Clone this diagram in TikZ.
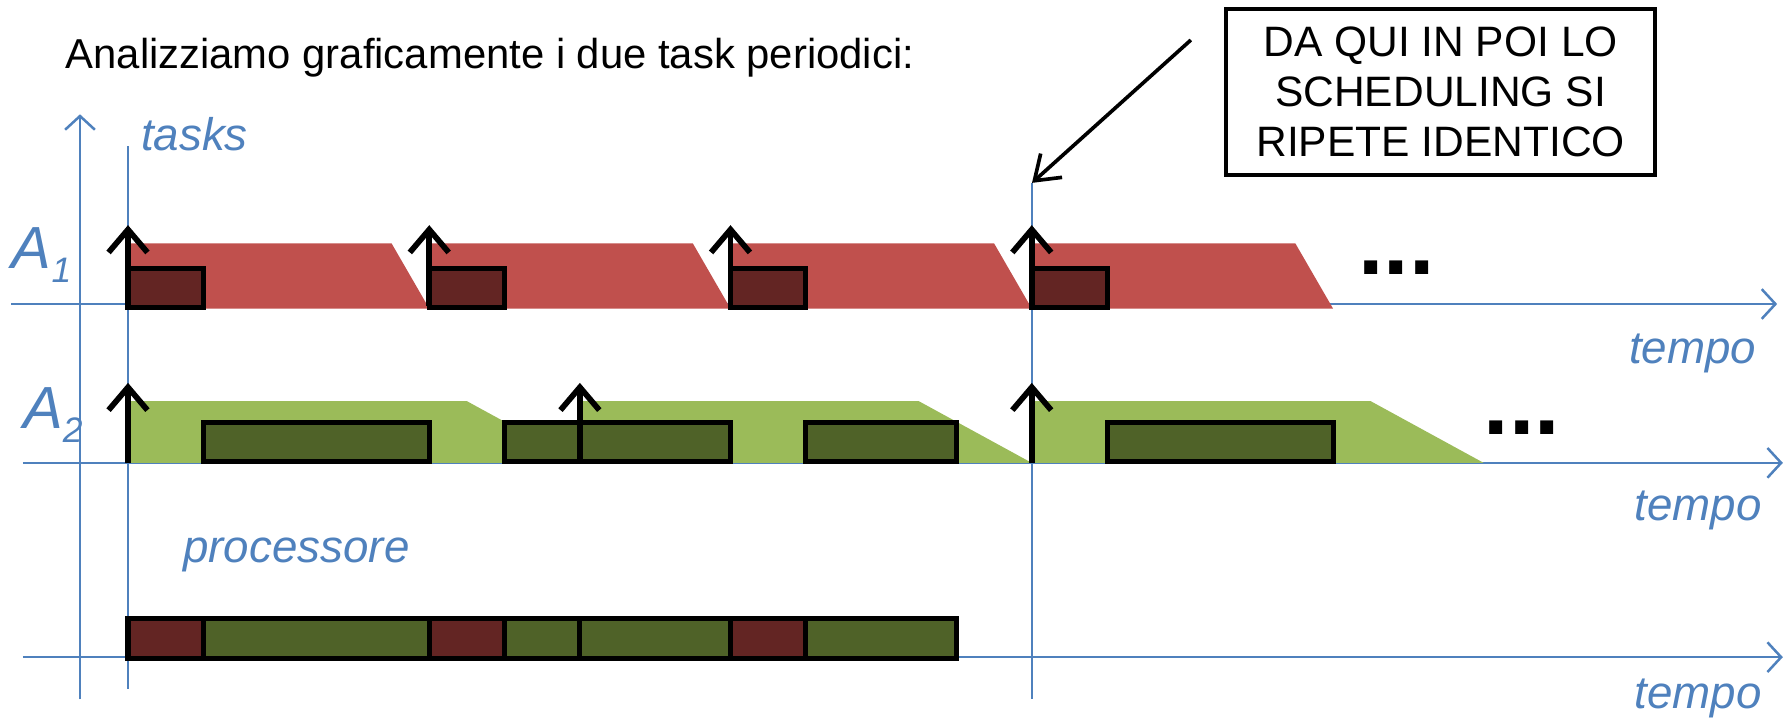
\documentclass[tikz,border=0pt]{standalone}
\usepackage{fontspec}
\setmainfont{Liberation Sans}
\usetikzlibrary{arrows.meta}

\definecolor{axisblue}{RGB}{79,129,189}
\definecolor{bandred}{RGB}{192,80,77}
\definecolor{jobred}{RGB}{99,37,35}
\definecolor{bandgreen}{RGB}{155,187,89}
\definecolor{jobgreen}{RGB}{79,98,40}

\begin{document}
\begin{tikzpicture}[x=0.5pt,y=-0.5pt,
  axis/.style={draw=axisblue,line width=1.1pt,-{Straight Barb[length=6pt,width=13pt]}},
  guide/.style={draw=axisblue,line width=0.5pt},
  release/.style={draw=black,line width=2.5pt,-{Straight Barb[length=10pt,width=17pt]}},
  pointer/.style={draw=black,line width=1.6pt,-{Straight Barb[length=10pt,width=14pt]}},
  job/.style={draw=black,line width=2.2pt},
  lbl/.style={text=axisblue,font=\fontsize{20}{24}\selectfont\itshape,inner sep=0pt,anchor=base west},
  tasklbl/.style={text=axisblue,font=\fontsize{26}{30}\selectfont\itshape,inner sep=0pt,anchor=base west},
  more/.style={font=\bfseries\fontsize{40}{40}\selectfont,inner sep=0pt,anchor=base west},
  callout/.style={draw=black,line width=1.6pt,minimum width=187.5pt,minimum height=72.5pt,
    align=center,font=\fontsize{18.6}{22}\selectfont,inner sep=0pt}
]
\useasboundingbox (0,0) rectangle (1568,634);
\def\xo{112}
\def\tu{65.9}

% title
\node[anchor=base west,inner sep=0pt,font=\fontsize{18.3}{22}\selectfont] (title) at (57,60)
  {Analizziamo graficamente i due task periodici:};

% vertical guides at t=0 and at the start of the repetition
\draw[guide] (112,128) -- (112,603);
\draw[guide] (903,160) -- (903,612);

% axes
\draw[axis] (70,612) -- (70,100);
\draw[axis] (10,266) -- (1555,266);
\draw[axis] (20,405) -- (1560,405);
\draw[axis] (20,575) -- (1560,575);

% axis labels
\node[lbl] (tasks) at (123,132) {tasks};
\node[lbl] (tempoA) at (1425,318) {tempo};
\node[lbl] (tempoB) at (1430,455) {tempo};
\node[lbl] (tempoC) at (1430,620) {tempo};
\node[lbl] (proc) at (160,492) {processore};
\node[tasklbl] (labA1) at (10,235) {A\raisebox{-6pt}{\fontsize{15.5}{18}\selectfont 1}};
\node[tasklbl] (labA2) at (20,375) {A\raisebox{-6pt}{\fontsize{15.5}{18}\selectfont 2}};

% task A1: period 4, deadline windows
\foreach \r in {0,4,8,12}
  \fill[bandred] ({\xo+\r*\tu},213) -- ({\xo+(\r+3.5)*\tu},213)
    -- ({\xo+(\r+4)*\tu},270) -- ({\xo+\r*\tu},270) -- cycle;
% task A2: period 6, deadline windows
\foreach \r in {0,6,12}
  \fill[bandgreen] ({\xo+\r*\tu},351) -- ({\xo+(\r+4.5)*\tu},351)
    -- ({\xo+(\r+6)*\tu},405) -- ({\xo+\r*\tu},405) -- cycle;

% A1 executions
\foreach \r in {0,4,8,12}
  \draw[job,fill=jobred] ({\xo+\r*\tu},235) rectangle ({\xo+(\r+1)*\tu},269);
% A2 executions
\foreach \a/\b in {1/4,5/6,6/8,9/11,13/16}
  \draw[job,fill=jobgreen] ({\xo+\a*\tu},370) rectangle ({\xo+\b*\tu},404);

% processor timeline
\foreach \a/\b in {1/4,5/6,6/8,9/11}
  \draw[job,fill=jobgreen] ({\xo+\a*\tu},541) rectangle ({\xo+\b*\tu},576);
\foreach \a in {0,4,8}
  \draw[job,fill=jobred] ({\xo+\a*\tu},541) rectangle ({\xo+(\a+1)*\tu},576);

% release arrows
\foreach \r in {0,4,8,12}
  \draw[release] ({\xo+\r*\tu},268) -- ({\xo+\r*\tu},197);
\foreach \r in {0,6,12}
  \draw[release] ({\xo+\r*\tu},405) -- ({\xo+\r*\tu},335);

% continuation marks
\node[more] (moreA1) at (1188,240) {...};
\node[more] (moreA2) at (1298,380) {...};

% callout
\node[callout] (note) at (1260.5,80.5) {DA QUI IN POI LO\\SCHEDULING SI\\RIPETE IDENTICO};
\coordinate (noteTail) at (1042,35);
\coordinate (repeatPoint) at (903,160);
\draw[pointer] (noteTail) -- (repeatPoint);
\end{tikzpicture}
\end{document}
